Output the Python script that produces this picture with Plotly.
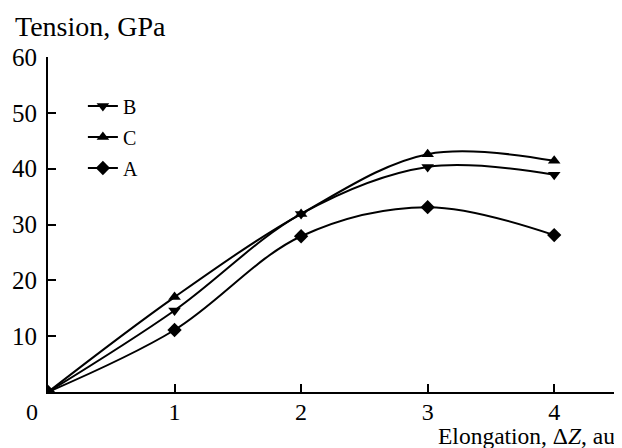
import plotly.graph_objects as go

x_vals = [0, 1, 2, 3, 4]
series_B = [0, 14.6, 31.9, 40.3, 38.9]
series_C = [0, 17.0, 31.9, 42.6, 41.4]
series_A = [0, 11.1, 27.9, 33.1, 28.1]
x_ticks = [1, 2, 3, 4]
y_ticks = [10, 20, 30, 40, 50, 60]

FONT = "Liberation Serif, Times New Roman, serif"

fig = go.Figure()
for name, ys, sym in [("B", series_B, "triangle-down"),
                      ("C", series_C, "triangle-up"),
                      ("A", series_A, "diamond")]:
    fig.add_trace(go.Scatter(
        x=x_vals, y=ys, name=name, mode="lines+markers", legendgroup=name,
        line=dict(color="black", width=2, shape="spline", smoothing=1.0),
        marker=dict(symbol=sym, size=11, color="black"),
    ))

# page body has an 8px default margin; the figure is sized to fit the window
fig.update_layout(
    width=614, height=440,
    margin=dict(l=40, r=2, t=49, b=56, autoexpand=False),
    paper_bgcolor="white", plot_bgcolor="white",
    font=dict(family=FONT, size=25, color="black"),
    showlegend=True,
    legend=dict(x=0.061, y=0.912, xanchor="left", yanchor="top",
                bgcolor="rgba(0,0,0,0)", font=dict(size=20),
                traceorder="grouped", tracegroupgap=2, itemwidth=30),
    xaxis=dict(range=[0, 4.52], showgrid=False, zeroline=False, automargin=False,
               showline=True, linecolor="black", linewidth=2,
               ticks="inside", ticklen=8, tickwidth=2, tickcolor="black",
               ticklabelstandoff=-3, tickfont=dict(size=24),
               tickvals=x_ticks, ticktext=[str(v) for v in x_ticks]),
    yaxis=dict(range=[0, 60], showgrid=False, zeroline=False, automargin=False,
               showline=True, linecolor="black", linewidth=2,
               ticks="inside", ticklen=8, tickwidth=2, tickcolor="black",
               ticklabelstandoff=4,
               tickvals=y_ticks, ticktext=[str(v) for v in y_ticks]),
    annotations=[
        dict(text="Tension, GPa", x=-0.0612, y=1.0925, xref="paper", yref="paper",
             xanchor="left", yanchor="middle",
             showarrow=False, font=dict(size=28)),
        dict(text="Elongation, Δ<i>Z</i>, au", x=0.9948, y=-0.1299, xref="paper", yref="paper",
             xanchor="right", yanchor="middle",
             showarrow=False, font=dict(size=23.5)),
        dict(text="0", x=-0.028, y=-0.0597, xref="paper", yref="paper",
             xanchor="center", yanchor="middle",
             showarrow=False, font=dict(size=24)),
    ],
)

fig.write_html("out.html")
